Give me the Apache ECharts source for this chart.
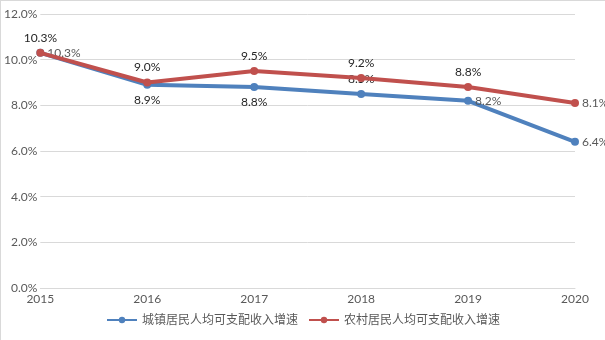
<!DOCTYPE html>
<html>
<head>
<meta charset="utf-8">
<script src="https://cdn.jsdelivr.net/npm/echarts@6/dist/echarts.min.js"></script>
<style>
  html, body { margin: 0; padding: 0; background: #fff; }
  #chart { width: 605px; height: 340px; box-sizing: border-box; border-top: 1px solid #d9d9d9; border-left: 1px solid #d9d9d9; }
</style>
</head>
<body>
<div id="chart"></div>
<script>
// Years on the x axis
const years = ['2015', '2016', '2017', '2018', '2019', '2020'];
// Per-capita disposable income growth rate (%)
const urbanGrowth = [10.3, 8.9, 8.8, 8.5, 8.2, 6.4];
const ruralGrowth = [10.3, 9.0, 9.5, 9.2, 8.8, 8.1];
const urbanName = '城镇居民人均可支配收入增速';
const ruralName = '农村居民人均可支配收入增速';
// Label placement for each point of the two series
const urbanLabelPos = ['right', 'bottom', 'bottom', 'top', 'right', 'right'];
const ruralLabelPos = ['top', 'top', 'top', 'top', 'top', 'right'];

const FONT = 'Lato, "Noto Sans CJK SC", sans-serif';

function buildData(values, positions) {
  return values.map((v, i) => ({
    value: v,
    label: {
      position: positions[i],
      distance: positions[i] === 'right' ? 3 : 5,
      color: positions[i] === 'right' ? '#595959' : '#262626'
    }
  }));
}

const chart = echarts.init(document.getElementById('chart'));
chart.setOption({
  animation: false,
  textStyle: { fontFamily: FONT },
  grid: { left: 39, right: 30, top: 13, bottom: 52, containLabel: false },
  legend: {
    bottom: 9,
    left: 'center',
    itemWidth: 30,
    itemHeight: 8,
    itemGap: 10,
    textStyle: { fontSize: 12, color: '#595959', fontFamily: FONT },
    data: [urbanName, ruralName]
  },
  xAxis: {
    type: 'category',
    data: years,
    boundaryGap: false,
    axisLine: { lineStyle: { color: '#d9d9d9', width: 1 } },
    axisTick: { show: false },
    axisLabel: { color: '#595959', fontSize: 12, margin: 5, fontFamily: FONT }
  },
  yAxis: {
    type: 'value',
    min: 0,
    max: 12,
    interval: 2,
    axisLine: { show: false },
    axisTick: { show: false },
    splitLine: { lineStyle: { color: '#d9d9d9', width: 1 } },
    axisLabel: {
      color: '#595959',
      fontSize: 12,
      margin: 3,
      fontFamily: FONT,
      formatter: v => v.toFixed(1) + '%'
    }
  },
  series: [
    {
      name: urbanName,
      type: 'line',
      data: buildData(urbanGrowth, urbanLabelPos),
      symbol: 'circle',
      symbolSize: 8,
      lineStyle: { color: '#4f81bd', width: 4 },
      itemStyle: { color: '#4f81bd' },
      label: {
        show: true,
        fontSize: 12,
        fontFamily: FONT,
        formatter: p => p.value.toFixed(1) + '%'
      },
      z: 2
    },
    {
      name: ruralName,
      type: 'line',
      data: buildData(ruralGrowth, ruralLabelPos),
      symbol: 'circle',
      symbolSize: 8,
      lineStyle: { color: '#c0504d', width: 4 },
      itemStyle: { color: '#c0504d' },
      label: {
        show: true,
        fontSize: 12,
        fontFamily: FONT,
        formatter: p => p.value.toFixed(1) + '%'
      },
      z: 3
    }
  ]
});
</script>
</body>
</html>
